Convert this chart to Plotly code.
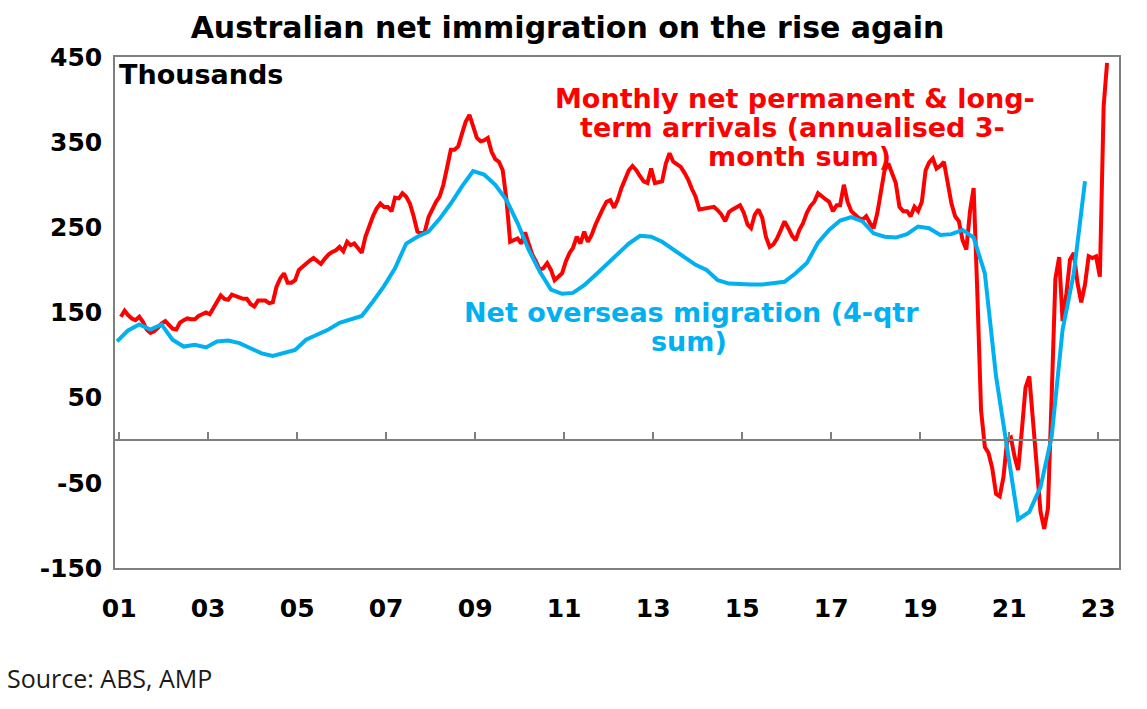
import plotly.graph_objects as go
import pandas as pd

# ---------------- data ----------------
# Monthly net permanent & long-term arrivals (annualised 3-month sum), thousands, Jan 2001 - Mar 2023
red_2001 = [145, 152, 147, 143, 141, 145, 139, 130, 126, 128, 132, 137]
red_2002 = [140, 136, 131, 130, 138, 141, 143, 142, 142, 146, 148, 150]
red_2003 = [148, 155, 163, 170, 166, 165, 171, 169, 167, 166, 166, 160]
red_2004 = [157, 164, 164, 164, 161, 162, 180, 190, 196, 185, 185, 188]
red_2005 = [200, 204, 208, 211, 214, 210, 207, 213, 218, 221, 223, 227]
red_2006 = [222, 233, 229, 231, 225, 220, 239, 252, 263, 272, 278, 274]
red_2007 = [274, 269, 285, 284, 290, 286, 278, 263, 245, 243, 245, 262]
red_2008 = [272, 280, 286, 300, 320, 341, 341, 345, 360, 374, 382, 368]
red_2009 = [355, 351, 352, 355, 339, 330, 327, 317, 282, 233, 235, 237]
red_2010 = [231, 244, 231, 218, 210, 200, 202, 208, 200, 188, 192, 196]
red_2011 = [210, 220, 226, 239, 231, 245, 233, 241, 253, 263, 272, 280]
red_2012 = [282, 273, 282, 296, 308, 317, 322, 317, 310, 304, 302, 319]
red_2013 = [302, 303, 304, 325, 337, 327, 324, 321, 314, 306, 295, 286]
red_2014 = [271, 272, 273, 274, 274, 270, 265, 257, 268, 271, 273, 276]
red_2015 = [267, 253, 249, 265, 271, 261, 239, 227, 230, 237, 247, 257]
red_2016 = [249, 240, 235, 247, 255, 267, 275, 280, 290, 286, 283, 280]
red_2017 = [269, 276, 276, 300, 280, 269, 265, 261, 259, 263, 255, 249]
red_2018 = [267, 294, 317, 325, 314, 302, 274, 269, 269, 263, 274, 269]
red_2019 = [280, 317, 326, 331, 319, 322, 327, 300, 278, 263, 257, 235]
red_2020 = [224, 270, 296, 170, 35, -8, -15, -33, -63, -66, -43, 0]
red_2021 = [3, -20, -35, 12, 62, 75, 25, -35, -84, -104, -80, 50]
red_2022 = [190, 215, 140, 172, 212, 220, 185, 162, 183, 216, 214, 216]
red_2023 = [192, 392, 443]

red_values = (red_2001 + red_2002 + red_2003 + red_2004 + red_2005 + red_2006 + red_2007
              + red_2008 + red_2009 + red_2010 + red_2011 + red_2012 + red_2013 + red_2014
              + red_2015 + red_2016 + red_2017 + red_2018 + red_2019 + red_2020 + red_2021
              + red_2022 + red_2023)
red_dates = pd.date_range("2001-01-01", periods=len(red_values), freq="MS") + pd.Timedelta(days=14)

# Net overseas migration (4-qtr sum), thousands, quarterly Dec 2000 - Sep 2022
blue_values = [116,
               129, 136, 130, 136,
               118, 110, 112, 109,
               116, 117, 114, 108,
               102, 99, 102, 106,
               118, 124, 130, 138,
               142, 146, 163, 181,
               202, 231, 239, 245,
               260, 278, 298, 316,
               312, 300, 282, 255,
               224, 198, 177, 172,
               173, 182, 194, 206,
               218, 231, 240, 239,
               233, 224, 214, 206,
               200, 188, 184, 183,
               183, 183, 184, 186,
               196, 208, 232, 247,
               258, 262, 257, 243,
               239, 238, 242, 251,
               249, 241, 242, 247,
               238, 196, 75, -10,
               -93, -84, -55, 4,
               130, 196, 304]
blue_dates = pd.date_range("2000-12-01", periods=len(blue_values), freq="QS-DEC") + pd.Timedelta(days=14)

tick_years = list(range(2001, 2024, 2))
tick_labels = [f"{y % 100:02d}" for y in tick_years]
y_ticks = [-150, -50, 50, 150, 250, 350, 450]

# ---------------- style ----------------
RED = "#FF0000"
BLUE = "#00B0F0"
AXIS = "#7F7F7F"
BOLD_FONT = "DejaVu Sans"
x_range = ["2000-11-28", "2023-06-21"]
tick_dates = [f"{y}-01-01" for y in tick_years]

fig = go.Figure()
fig.add_trace(go.Scatter(x=red_dates, y=red_values, mode="lines",
                         line=dict(color=RED, width=4), xaxis="x", yaxis="y",
                         showlegend=False, hoverinfo="skip"))
fig.add_trace(go.Scatter(x=blue_dates, y=blue_values, mode="lines",
                         line=dict(color=BLUE, width=4), xaxis="x2", yaxis="y",
                         showlegend=False, hoverinfo="skip"))

fig.update_layout(
    width=1147, height=709, autosize=False,
    margin=dict(l=115, r=28, t=57, b=141, autoexpand=False),
    paper_bgcolor="white", plot_bgcolor="white",
    title=dict(text="<b>Australian net immigration on the rise again</b>",
               x=0.4948, xref="container", xanchor="center",
               y=1 - 27 / 709, yanchor="middle", yref="container",
               font=dict(family=BOLD_FONT, size=30, color="black")),
    xaxis=dict(type="date", range=x_range, tickvals=tick_dates,
               ticktext=[f"<b>{t}</b>" for t in tick_labels],
               showline=True, linecolor=AXIS, linewidth=1.5, mirror=True,
               ticks="", showgrid=False, zeroline=False, ticklabelstandoff=17,
               automargin=False,
               tickfont=dict(family=BOLD_FONT, size=25, color="black"),
               tickangle=0),
    xaxis2=dict(type="date", range=x_range, overlaying="x", anchor="free", position=0.25,
                side="bottom", tickvals=tick_dates, showticklabels=False,
                ticks="inside", ticklen=8, tickwidth=1.5, tickcolor=AXIS,
                showline=True, linecolor=AXIS, linewidth=1.5, showgrid=False, zeroline=False,
                automargin=False),
    yaxis=dict(range=[-150, 450], tickvals=y_ticks,
               ticktext=[f"<b>{v}</b>" for v in y_ticks],
               showline=True, linecolor=AXIS, linewidth=1.5, mirror=True,
               ticks="", showgrid=False, zeroline=False, ticklabelstandoff=6,
               automargin=False,
               tickfont=dict(family=BOLD_FONT, size=25, color="black")),
)

def paper_x(px):
    return (px - 115) / (1119 - 115)

def paper_y(py):
    return (568 - py) / (568 - 57)

annots = [
    ("<b>Thousands</b>", 117, 74, "left", "black", BOLD_FONT, 27),
    ("<b>Monthly net permanent & long-</b>", 795, 98, "center", RED, BOLD_FONT, 27),
    ("<b>term arrivals (annualised 3-</b>", 792, 127, "center", RED, BOLD_FONT, 27),
    ("<b>month sum)</b>", 799, 156, "center", RED, BOLD_FONT, 27),
    ("<b>Net overseas migration (4-qtr</b>", 691, 312, "center", BLUE, BOLD_FONT, 27),
    ("<b>sum)</b>", 689, 341, "center", BLUE, BOLD_FONT, 27),
    ("Source: ABS, AMP", 5, 678, "left", "#1a1a1a", "Open Sans", 25),
]
for text, px, py, xa, color, fam, size in annots:
    fig.add_annotation(text=text, x=paper_x(px), y=paper_y(py), xref="paper", yref="paper",
                       xanchor=xa, yanchor="middle", showarrow=False,
                       font=dict(family=fam, size=size, color=color))

fig.write_html("out.html", config={"displayModeBar": False},
               post_script="document.body.style.margin='0';document.body.style.padding='0';")
